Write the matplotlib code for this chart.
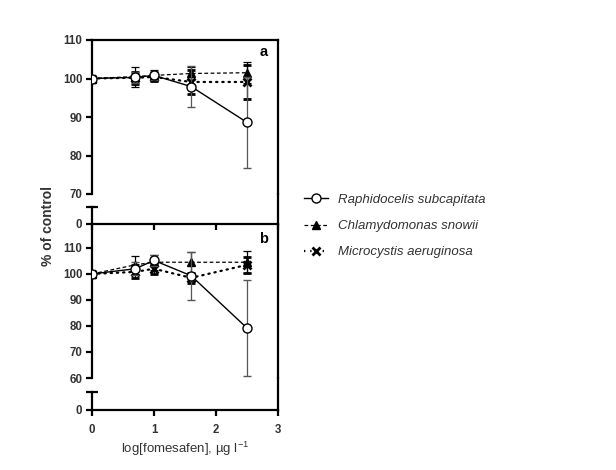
import numpy as np
import matplotlib
matplotlib.use("Agg")
import matplotlib.pyplot as plt
from matplotlib.lines import Line2D

plt.rcParams['font.family'] = ['Liberation Sans', 'DejaVu Sans']

# log[fomesafen] concentrations
conc = [0, 0.7, 1.0, 1.6, 2.5]

# panel a
a_raph = [100, 100.3, 100.8, 97.9, 88.6]
a_raph_sd = [0, 1.5, 1.2, 5.3, 11.8]
a_chla = [100, 100.5, 100.8, 101.3, 101.5]
a_chla_sd = [0, 2.6, 1.5, 1.7, 2.7]
a_micro = [100, 100.2, 100.4, 99.1, 99.1]
a_micro_sd = [0, 1.5, 1.0, 3.0, 4.5]

# panel b
b_raph = [100, 102.0, 105.2, 99.3, 79.2]
b_raph_sd = [0, 2.5, 2.0, 9.3, 18.6]
b_chla = [100, 103.5, 104.5, 104.5, 104.5]
b_chla_sd = [0, 3.5, 2.8, 4.0, 4.3]
b_micro = [100, 100.8, 102.0, 98.5, 103.5]
b_micro_sd = [0, 2.5, 2.0, 2.0, 3.0]

species = ['Raphidocelis subcapitata', 'Chlamydomonas snowii', 'Microcystis aeruginosa']

W, H = 616, 470
fig = plt.figure(figsize=(W / 100, H / 100), dpi=100)

def box(top, bottom):
    x0, x1 = 92, 278
    return [x0 / W, 1 - bottom / H, (x1 - x0) / W, (bottom - top) / H]

tick_col = '#333333'
spine_w = 1.6

ax_a = fig.add_axes(box(40, 194))
ax_a0 = fig.add_axes(box(194, 224))
ax_b = fig.add_axes(box(224, 378))
ax_b0 = fig.add_axes(box(378, 410))
for ax in (ax_a, ax_a0, ax_b, ax_b0):
    ax.set_facecolor('none')

def style(ax):
    for s in ax.spines.values():
        s.set_linewidth(spine_w)
    ax.set_xlim(0, 3)
    ax.tick_params(width=spine_w, length=4, labelsize=8.3, colors='black',
                   labelcolor=tick_col, pad=3)
    for lab in ax.get_yticklabels() + ax.get_xticklabels():
        lab.set_fontweight('bold')

def draw(ax, raph, raph_sd, chla, chla_sd, micro, micro_sd):
    ax.errorbar(conc, chla, yerr=chla_sd, color='black', lw=0.9,
                linestyle=(0, (3, 2)), marker='^', ms=6, mfc='black',
                capsize=3, elinewidth=0.9, capthick=0.9, zorder=3)
    ax.errorbar(conc, micro, yerr=micro_sd, color='black', lw=1.6,
                linestyle=(0, (0.6, 2.2)), dash_capstyle='round', marker='x',
                ms=6, mew=2, capsize=3, elinewidth=0.9, capthick=0.9, zorder=3)
    ax.errorbar(conc, raph, yerr=raph_sd, color='black', ecolor='#555555',
                lw=1.0, marker='o', ms=6.5, mfc='white', mec='black', mew=1,
                capsize=3, elinewidth=0.9, capthick=0.9, zorder=4)

# ---- panel a
draw(ax_a, a_raph, a_raph_sd, a_chla, a_chla_sd, a_micro, a_micro_sd)
ax_a.set_ylim(70, 110)
ax_a.set_yticks([70, 80, 90, 100, 110])
ax_a.set_xticks([])
ax_a.spines['bottom'].set_visible(False)
ax_a.text(0.925, 0.92, 'a', transform=ax_a.transAxes, fontsize=10.5,
          fontweight='bold', ha='center', va='center')
style(ax_a)

ax_a0.set_ylim(0, 30)
ax_a0.spines['top'].set_visible(False)
ax_a0.spines['left'].set_bounds(0, 17)
ax_a0.set_yticks([0])
ax_a0.set_yticks([17], minor=True)
ax_a0.tick_params(axis='y', which='minor', direction='inout', length=8, width=spine_w)
ax_a0.set_xticks([0, 1, 2, 3])
ax_a0.set_xticklabels([])
style(ax_a0)

# ---- panel b
draw(ax_b, b_raph, b_raph_sd, b_chla, b_chla_sd, b_micro, b_micro_sd)
ax_b.set_ylim(60, 119.2)
ax_b.set_yticks([60, 70, 80, 90, 100, 110])
ax_b.set_xticks([])
ax_b.spines['top'].set_visible(False)
ax_b.spines['bottom'].set_visible(False)
ax_b.text(0.925, 0.9, 'b', transform=ax_b.transAxes, fontsize=10.5,
          fontweight='bold', ha='center', va='center')
style(ax_b)

ax_b0.set_ylim(0, 32)
ax_b0.spines['top'].set_visible(False)
ax_b0.spines['left'].set_bounds(0, 18)
ax_b0.set_yticks([0])
ax_b0.set_yticks([18], minor=True)
ax_b0.tick_params(axis='y', which='minor', direction='inout', length=8, width=spine_w)
ax_b0.set_xticks([0, 1, 2, 3])
style(ax_b0)
ax_b0.tick_params(axis='x', pad=6)

fig.text(48 / W, 1 - 226 / H, '% of control', rotation=90, ha='center',
         va='center', fontsize=10, fontweight='bold', color=tick_col)
fig.text(185 / W, 1 - 449 / H, r'log[fomesafen], µg l$^{\mathregular{-1}}$',
         ha='center', va='center', fontsize=9.5, color=tick_col)

handles = [
    Line2D([], [], color='black', lw=1.0, marker='o', ms=6.5, mfc='white', mec='black'),
    Line2D([], [], color='black', lw=0.9, linestyle=(0, (3, 2)), marker='^', ms=6, mfc='black'),
    Line2D([], [], color='black', lw=1.6, linestyle=(0, (0.6, 2.2)), marker='x', ms=6, mew=2),
]
leg = fig.legend(handles, species, loc='center left',
                 bbox_to_anchor=(292 / W, 1 - 226 / H), frameon=False,
                 handlelength=1.8, labelspacing=1.05, handletextpad=0.8,
                 prop={'style': 'italic', 'size': 9.5})
for t in leg.get_texts():
    t.set_color(tick_col)

fig.savefig('out.png', dpi=100)
